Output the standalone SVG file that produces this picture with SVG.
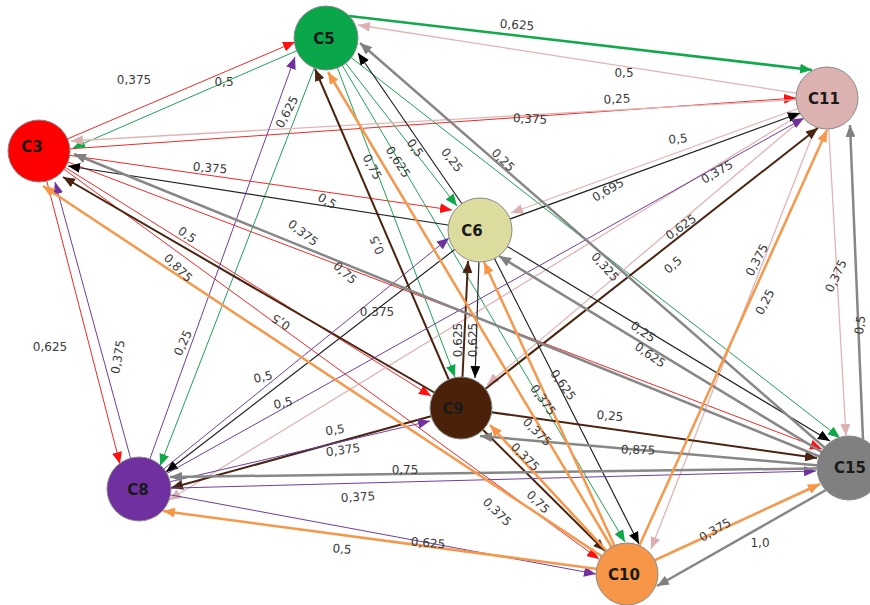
<svg xmlns="http://www.w3.org/2000/svg" width="870" height="605" viewBox="0 0 870 605">
<defs>
<style>
.e{fill:none}
.r{stroke:#ee2a2a;stroke-width:1;marker-end:url(#mR)}
.g{stroke:#22a055;stroke-width:1;marker-end:url(#mG)}
.gt{stroke:#12a84c;stroke-width:2.6;marker-end:url(#mG)}
.p{stroke:#e2b4b4;stroke-width:1.3;marker-end:url(#mP)}
.k{stroke:#222;stroke-width:1.2;marker-end:url(#mK)}
.b{stroke:#4a2410;stroke-width:2;marker-end:url(#mB)}
.u{stroke:#6d3f9e;stroke-width:1;marker-end:url(#mU)}
.y{stroke:#878787;stroke-width:2.5;marker-end:url(#mY)}
.o{stroke:#f5984c;stroke-width:2.5;marker-end:url(#mO)}
.lb{font-family:"DejaVu Sans",Verdana,sans-serif;font-size:12px;fill:#3a3a3a;text-anchor:middle;dominant-baseline:central}
.nd{stroke:#8a8a8a;stroke-width:1}
.nt{font-family:"DejaVu Sans",Verdana,sans-serif;font-size:15px;font-weight:bold;fill:#1a1a1a;text-anchor:middle;dominant-baseline:central}
</style>
<marker id="mR" markerUnits="userSpaceOnUse" markerWidth="12" markerHeight="10" refX="12" refY="5" orient="auto"><path d="M0,0 L12,5 L0,10 Z" fill="#ff1010"/></marker>
<marker id="mG" markerUnits="userSpaceOnUse" markerWidth="12" markerHeight="10" refX="12" refY="5" orient="auto"><path d="M0,0 L12,5 L0,10 Z" fill="#0fa84a"/></marker>
<marker id="mP" markerUnits="userSpaceOnUse" markerWidth="12" markerHeight="10" refX="12" refY="5" orient="auto"><path d="M0,0 L12,5 L0,10 Z" fill="#dcb0b0"/></marker>
<marker id="mK" markerUnits="userSpaceOnUse" markerWidth="12" markerHeight="10" refX="12" refY="5" orient="auto"><path d="M0,0 L12,5 L0,10 Z" fill="#000"/></marker>
<marker id="mB" markerUnits="userSpaceOnUse" markerWidth="12" markerHeight="10" refX="12" refY="5" orient="auto"><path d="M0,0 L12,5 L0,10 Z" fill="#4a2410"/></marker>
<marker id="mU" markerUnits="userSpaceOnUse" markerWidth="12" markerHeight="10" refX="12" refY="5" orient="auto"><path d="M0,0 L12,5 L0,10 Z" fill="#7030a0"/></marker>
<marker id="mY" markerUnits="userSpaceOnUse" markerWidth="12" markerHeight="10" refX="12" refY="5" orient="auto"><path d="M0,0 L12,5 L0,10 Z" fill="#808080"/></marker>
<marker id="mO" markerUnits="userSpaceOnUse" markerWidth="12" markerHeight="10" refX="12" refY="5" orient="auto"><path d="M0,0 L12,5 L0,10 Z" fill="#f79646"/></marker>
</defs>
<rect width="870" height="605" fill="#fff"/>
<g id="connectors" class="e">
<!-- C3 -->
<line class="r" x1="39" y1="151" x2="295" y2="42"/>
<line class="r" x1="39" y1="151" x2="796" y2="98"/>
<line class="r" x1="39" y1="151" x2="452" y2="210"/>
<line class="r" x1="39" y1="151" x2="431" y2="396"/>
<line class="r" x1="39" y1="151" x2="120" y2="464"/>
<line class="r" x1="39" y1="151" x2="822" y2="449"/>
<line class="r" x1="39" y1="151" x2="599" y2="559"/>
<!-- C5 -->
<line class="g" x1="326" y1="38" x2="73" y2="148"/>
<line class="gt" x1="349" y1="16" x2="812" y2="70"/>
<line class="g" x1="326" y1="38" x2="457" y2="206"/>
<line class="g" x1="326" y1="38" x2="455" y2="377"/>
<line class="g" x1="326" y1="38" x2="160" y2="466"/>
<line class="g" x1="326" y1="38" x2="840" y2="438"/>
<line class="g" x1="326" y1="38" x2="625" y2="542"/>
<!-- C11 -->
<line class="p" x1="827" y1="98" x2="71" y2="141"/>
<line class="p" x1="827" y1="98" x2="358" y2="25"/>
<line class="p" x1="827" y1="98" x2="511" y2="213"/>
<line class="p" x1="827" y1="98" x2="487" y2="385"/>
<line class="p" x1="827" y1="98" x2="169" y2="500"/>
<line class="p" x1="827" y1="98" x2="846" y2="436"/>
<line class="p" x1="827" y1="98" x2="651" y2="549"/>
<!-- C6 -->
<line class="k" x1="480" y1="230" x2="68" y2="166"/>
<line class="k" x1="480" y1="230" x2="358" y2="53"/>
<line class="k" x1="480" y1="230" x2="800" y2="113"/>
<line class="k" x1="480" y1="230" x2="475" y2="378"/>
<line class="k" x1="480" y1="230" x2="166" y2="472"/>
<line class="k" x1="480" y1="230" x2="830" y2="441"/>
<line class="k" x1="480" y1="230" x2="639" y2="544"/>
<!-- C9 -->
<line class="b" x1="461" y1="408" x2="63" y2="177"/>
<line class="b" x1="461" y1="408" x2="315" y2="69"/>
<line class="b" x1="461" y1="408" x2="818" y2="128"/>
<line class="b" x1="461" y1="408" x2="468" y2="261"/>
<line class="b" x1="461" y1="408" x2="171" y2="488"/>
<line class="b" x1="461" y1="408" x2="817" y2="458"/>
<line class="b" x1="461" y1="408" x2="605" y2="551"/>
<!-- C8 -->
<line class="u" x1="139" y1="489" x2="55" y2="182"/>
<line class="u" x1="139" y1="489" x2="295" y2="57"/>
<line class="u" x1="139" y1="489" x2="804" y2="118"/>
<line class="u" x1="139" y1="489" x2="449" y2="238"/>
<line class="u" x1="139" y1="489" x2="430" y2="421"/>
<line class="u" x1="139" y1="489" x2="816" y2="471"/>
<line class="u" x1="139" y1="489" x2="596" y2="574"/>
<!-- C15 -->
<line class="y" x1="848" y1="468" x2="74" y2="154"/>
<line class="y" x1="848" y1="468" x2="360" y2="43"/>
<line class="y" x1="863" y1="440" x2="850" y2="125"/>
<line class="y" x1="848" y1="468" x2="499" y2="256"/>
<line class="y" x1="848" y1="468" x2="480" y2="436"/>
<line class="y" x1="848" y1="468" x2="170" y2="477"/>
<line class="y" x1="840" y1="482" x2="657" y2="586"/>
<!-- C10 -->
<line class="o" x1="627" y1="573" x2="43" y2="186"/>
<line class="o" x1="627" y1="573" x2="328" y2="72"/>
<line class="o" x1="627" y1="573" x2="827" y2="130"/>
<line class="o" x1="627" y1="573" x2="484" y2="262"/>
<line class="o" x1="627" y1="573" x2="490" y2="425"/>
<line class="o" x1="627" y1="573" x2="163" y2="511"/>
<line class="o" x1="627" y1="573" x2="820" y2="484"/>
</g>
<g id="labels">
<text class="lb" transform="translate(517,25) rotate(4)">0,625</text>
<text class="lb" transform="translate(134,80)">0,375</text>
<text class="lb" transform="translate(224,82)">0,5</text>
<text class="lb" transform="translate(624,73)">0,5</text>
<text class="lb" transform="translate(617,99) rotate(-3)">0,25</text>
<text class="lb" transform="translate(530,119) rotate(3)">0,375</text>
<text class="lb" transform="translate(287,112) rotate(-62)">0,625</text>
<text class="lb" transform="translate(210,168) rotate(5)">0,375</text>
<text class="lb" transform="translate(327,201) rotate(30)">0,5</text>
<text class="lb" transform="translate(678,139) rotate(-5)">0,5</text>
<text class="lb" transform="translate(608,190) rotate(-30)">0,695</text>
<text class="lb" transform="translate(717,172) rotate(-30)">0,375</text>
<text class="lb" transform="translate(681,227) rotate(-35)">0,625</text>
<text class="lb" transform="translate(673,265) rotate(-40)">0,5</text>
<text class="lb" transform="translate(757,260) rotate(-62)">0,375</text>
<text class="lb" transform="translate(765,302) rotate(-62)">0,25</text>
<text class="lb" transform="translate(836,276) rotate(-65)">0,375</text>
<text class="lb" transform="translate(860,325) rotate(-82)">0,5</text>
<text class="lb" transform="translate(605,267) rotate(48)">0,325</text>
<text class="lb" transform="translate(503,160) rotate(45)">0,25</text>
<text class="lb" transform="translate(452,160) rotate(52)">0,25</text>
<text class="lb" transform="translate(415,148) rotate(55)">0,5</text>
<text class="lb" transform="translate(398,162) rotate(57)">0,625</text>
<text class="lb" transform="translate(372,167) rotate(62)">0,75</text>
<text class="lb" transform="translate(377,245) rotate(-113)">0,5</text>
<text class="lb" transform="translate(303,233) rotate(38)">0,375</text>
<text class="lb" transform="translate(345,273) rotate(42)">0,75</text>
<text class="lb" transform="translate(377,312)">0,375</text>
<text class="lb" transform="translate(187,235) rotate(35)">0,5</text>
<text class="lb" transform="translate(178,268) rotate(45)">0,875</text>
<text class="lb" transform="translate(281,322) rotate(-148)">0,5</text>
<text class="lb" transform="translate(50,347)">0,625</text>
<text class="lb" transform="translate(118,357) rotate(-80)">0,375</text>
<text class="lb" transform="translate(183,343) rotate(-65)">0,25</text>
<text class="lb" transform="translate(263,377) rotate(-12)">0,5</text>
<text class="lb" transform="translate(283,403) rotate(-12)">0,5</text>
<text class="lb" transform="translate(458,340) rotate(-90)">0,625</text>
<text class="lb" transform="translate(473,340) rotate(-90)">0,625</text>
<text class="lb" transform="translate(543,400) rotate(55)">0,375</text>
<text class="lb" transform="translate(563,385) rotate(55)">0,625</text>
<text class="lb" transform="translate(537,432) rotate(45)">0,375</text>
<text class="lb" transform="translate(525,457) rotate(45)">0,375</text>
<text class="lb" transform="translate(538,502) rotate(45)">0,75</text>
<text class="lb" transform="translate(497,512) rotate(45)">0,375</text>
<text class="lb" transform="translate(610,416) rotate(5)">0,25</text>
<text class="lb" transform="translate(638,450) rotate(2)">0,875</text>
<text class="lb" transform="translate(405,470)">0,75</text>
<text class="lb" transform="translate(335,430) rotate(-8)">0,5</text>
<text class="lb" transform="translate(343,450) rotate(-8)">0,375</text>
<text class="lb" transform="translate(358,497) rotate(-3)">0,375</text>
<text class="lb" transform="translate(428,543) rotate(5)">0,625</text>
<text class="lb" transform="translate(342,549) rotate(5)">0,5</text>
<text class="lb" transform="translate(715,530) rotate(-30)">0,375</text>
<text class="lb" transform="translate(760,543)">1,0</text>
<text class="lb" transform="translate(643,332) rotate(35)">0,25</text>
<text class="lb" transform="translate(650,355) rotate(35)">0,625</text>
</g>
<g id="C3"><circle class="nd" cx="39" cy="151" r="31" fill="#ff0000" stroke="#c00"/><text class="nt" x="32" y="147">C3</text></g>
<g id="C5"><circle class="nd" cx="326" cy="38" r="32" fill="#0aa64a"/><text class="nt" x="324" y="39">C5</text></g>
<g id="C11"><circle class="nd" cx="827" cy="98" r="31" fill="#dcb2b0"/><text class="nt" x="824" y="99">C11</text></g>
<g id="C6"><circle class="nd" cx="480" cy="230" r="32" fill="#dcdc9e"/><text class="nt" x="472" y="231">C6</text></g>
<g id="C9"><circle class="nd" cx="461" cy="408" r="31" fill="#4b2109" stroke="#3a1806"/><text class="nt" x="453" y="409">C9</text></g>
<g id="C8"><circle class="nd" cx="139" cy="489" r="32" fill="#7030a0"/><text class="nt" x="138" y="490" fill="#1e0a30">C8</text></g>
<g id="C15"><circle class="nd" cx="849" cy="468" r="32" fill="#808080"/><text class="nt" x="850" y="468">C15</text></g>
<g id="C10"><circle class="nd" cx="627" cy="574" r="31" fill="#f79646" stroke="#c07030"/><text class="nt" x="624" y="575">C10</text></g>
</svg>
